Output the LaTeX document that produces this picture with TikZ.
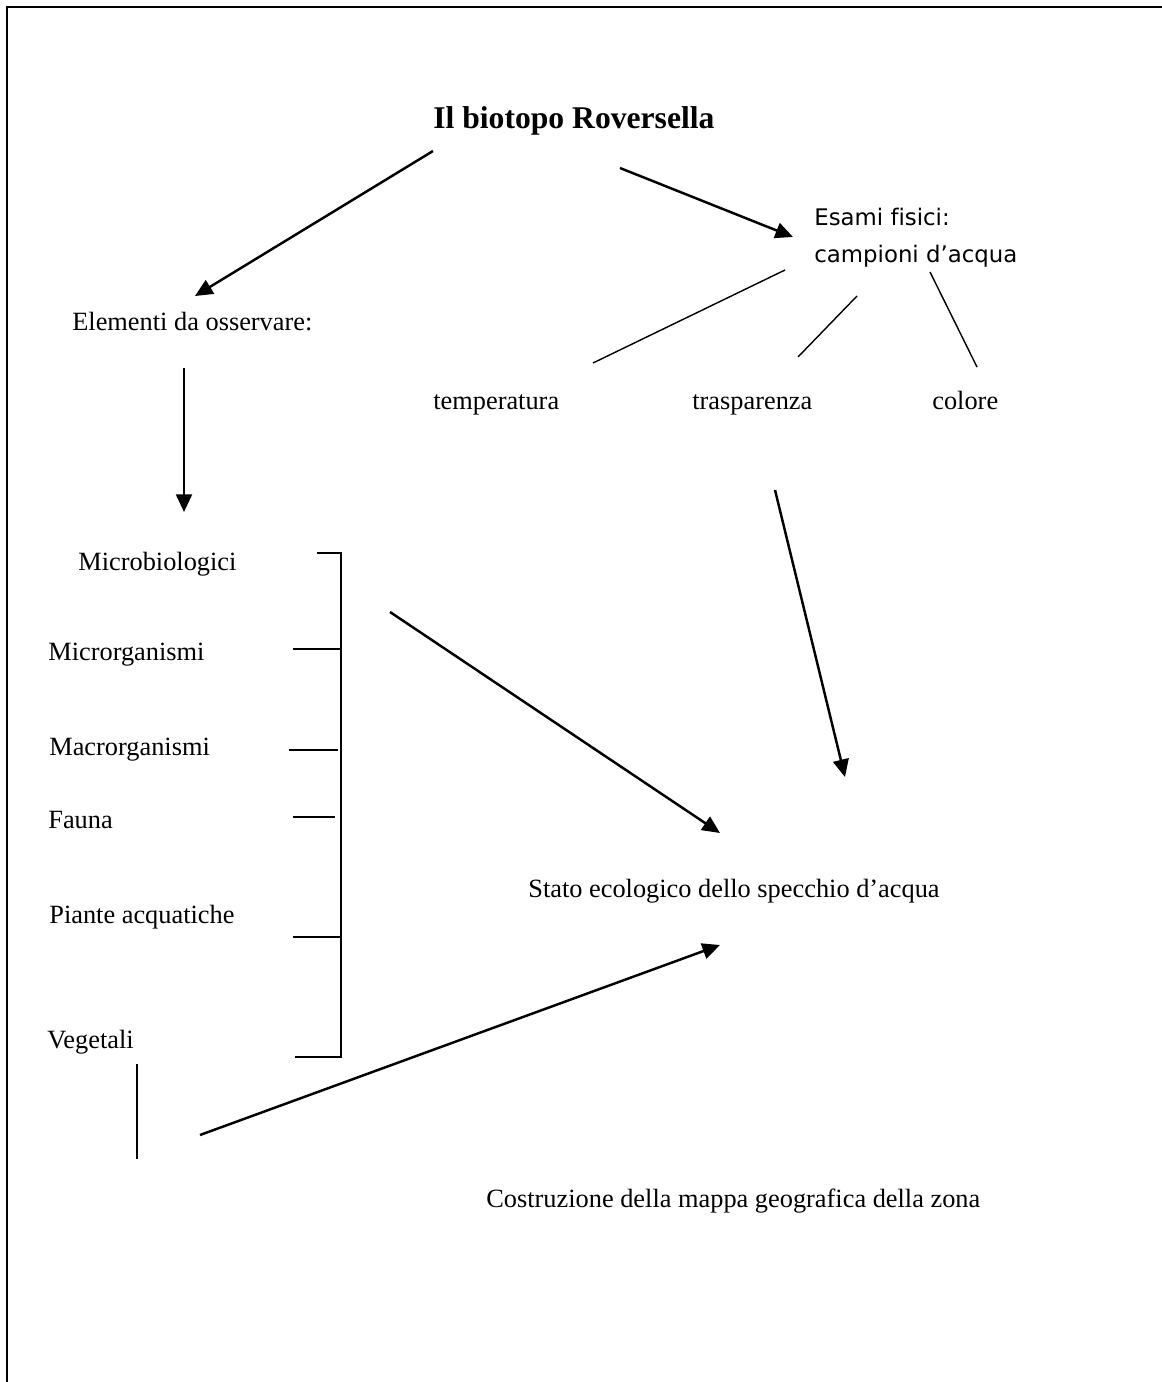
\documentclass[tikz,border=0pt]{standalone}
\usepackage{fontspec}
\setmainfont{Liberation Serif}
\newfontfamily\handfont[Ligatures=NoCommon]{DejaVu Sans}
\usetikzlibrary{arrows.meta}

\begin{document}
\begin{tikzpicture}[
	x=0.02cm, y=-0.02cm,
	lbl/.style={anchor=base west, inner sep=0pt, font=\fontsize{15}{18}\selectfont},
	ttl/.style={anchor=base west, inner sep=0pt, font=\fontsize{18}{22}\selectfont\bfseries},
	hand/.style={anchor=west, inner sep=0pt, align=left, font=\handfont\fontsize{13}{21}\selectfont},
	arr/.style={-{Triangle[length=10pt,width=9pt]}, line width=1.4pt},
	lnk/.style={line width=0.8pt},
	brk/.style={line width=1.0pt},
	]
	
	\useasboundingbox (0,0) rectangle (1162,1382);
	\draw[line width=1.4pt] (7,1382) -- (7,7) -- (1162,7);
	
	\node[ttl] (title)  at (433,129) {Il biotopo Roversella};
	\node[lbl] (elem)   at (72,330)  {Elementi da osservare:};
	\node[hand] (esami) at (814,238) {Esami fisici:\\campioni d’acqua};
	
	\node[lbl] (temp)   at (433,409) {temperatura};
	\node[lbl] (trasp)  at (692,409) {trasparenza};
	\node[lbl] (colore) at (932,409) {colore};
	
	\node[lbl] (micro)  at (78,570)  {Microbiologici};
	\node[lbl] (morg)   at (48,660)  {Microrganismi};
	\node[lbl] (macro)  at (49,755)  {Macrorganismi};
	\node[lbl] (fauna)  at (48,828)  {Fauna};
	\node[lbl] (piante) at (49,923)  {Piante acquatiche};
	\node[lbl] (veget)  at (47,1048) {Vegetali};
	
	\node[lbl] (stato)  at (528,897)  {Stato ecologico dello specchio d’acqua};
	\node[lbl] (mappa)  at (486,1207) {Costruzione della mappa geografica della zona};
	
	% title branches
	\draw[arr] ([shift={(0,22)}]title.base west) -- ([shift={(123,-34)}]elem.base west);
	\draw[arr] ([shift={(187,39)}]title.base west) -- ([shift={(-21,-1)}]esami.west);
	\draw[arr] ([shift={(112,38)}]elem.base west) -- ([shift={(106,-58)}]micro.base west);
	
	% physical tests
	\draw[lnk] ([shift={(-29,32)}]esami.west) -- ([shift={(160,-46)}]temp.base west);
	\draw[lnk] ([shift={(43,58)}]esami.west) -- ([shift={(106,-52)}]trasp.base west);
	\draw[lnk] ([shift={(116,34)}]esami.west) -- ([shift={(45,-42)}]colore.base west);
	
	% bracket
	\draw[brk] (317,553) -- (341,553) -- (341,1057) -- (295,1057);
	\draw[brk] (293,649) -- (341,649);
	\draw[brk] (289,750) -- (338,750);
	\draw[brk] (293,817) -- (335,817);
	\draw[brk] (293,937) -- (341,937);
	\coordinate (brace) at (390,612);
	
	% towards the ecological state
	\draw[arr] (brace) -- ([shift={(192,-64)}]stato.base west);
	\draw[arr] ([shift={(83,81)}]trasp.base west) -- ([shift={(317,-120)}]stato.base west);
	\draw[brk] ([shift={(90,16)}]veget.base west) -- ([shift={(90,111)}]veget.base west);
	\draw[arr] ([shift={(153,87)}]veget.base west) -- ([shift={(192,48)}]stato.base west);
	
\end{tikzpicture}
\end{document}
